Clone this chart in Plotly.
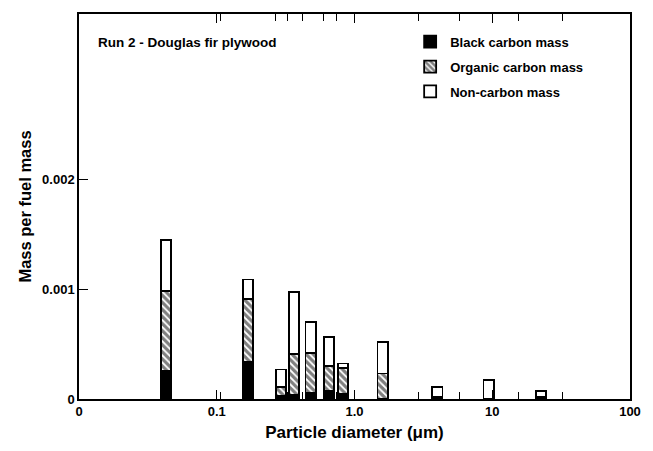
import numpy as np
import plotly.graph_objects as go

# Impactor stage mid-point diameters (um)
diameter = [0.0426, 0.168, 0.293, 0.364, 0.48, 0.652, 0.826, 1.60, 4.0, 9.4, 22.6]

# Mass per fuel mass, split by component
black_carbon = [0.000255, 0.000335, 0.00003, 0.00004, 0.00006, 0.00007, 0.00005, 0.0, 0.0, 0.0, 0.000005]
organic_carbon = [0.000727, 0.000572, 0.00008, 0.000372, 0.000357, 0.00023, 0.00023, 0.000232, 0.00002, 0.0, 0.000015]
non_carbon = [0.000466, 0.00018, 0.000158, 0.000564, 0.000286, 0.000261, 0.000042, 0.000284, 0.00009, 0.00017, 0.00005]

# Axis ticks
x_tickvals = [0.01, 0.1, 1, 10, 100]
x_ticktext = ["0", "0.1", "1.0", "10", "100"]
stage_cuts = [0.107, 0.266, 0.328, 0.419, 0.60, 0.74, 2.9, 5.75, 15.5, 32.3]
y_tickvals = [0, 0.001, 0.002]
y_ticktext = ["0", "0.001", "0.002"]

# Constant bar width on the log axis (in decades)
decades = 0.074
xc = np.array(diameter)
left = xc * 10 ** (-decades / 2)
right = xc * 10 ** (decades / 2)
widths = right - left
offsets = left - xc

FONT = "Liberation Sans, Arial, Helvetica, sans-serif"
line = dict(color="black", width=1.8)

fig = go.Figure()
fig.add_trace(go.Bar(
    x=diameter, y=black_carbon, width=widths, offset=offsets,
    name="Black carbon mass", legendgroup="a",
    marker=dict(color="black", line=line),
))
fig.add_trace(go.Bar(
    x=diameter, y=organic_carbon, width=widths, offset=offsets,
    name="Organic carbon mass", legendgroup="b",
    marker=dict(color="white", line=line,
                pattern=dict(shape="\\", fgcolor="black", bgcolor="white",
                             size=5, solidity=0.65)),
))
fig.add_trace(go.Bar(
    x=diameter, y=non_carbon, width=widths, offset=offsets,
    name="Non-carbon mass", legendgroup="c",
    marker=dict(color="white", line=line),
))

fig.update_layout(
    barmode="stack",
    width=653, height=451,
    margin=dict(l=79, r=13, t=13, b=47),
    paper_bgcolor="white", plot_bgcolor="white",
    font=dict(family=FONT, color="black", size=13),
    showlegend=True,
    legend=dict(
        x=0.601, y=0.967, xanchor="left", yanchor="top",
        bgcolor="rgba(0,0,0,0)", borderwidth=0,
        font=dict(family=FONT, size=13, weight="bold"),
        traceorder="grouped", tracegroupgap=5, itemwidth=30,
    ),
    annotations=[dict(
        text="Run 2 - Douglas fir plywood", x=0.03, y=0.925,
        xref="paper", yref="paper", xanchor="left", yanchor="middle",
        showarrow=False, font=dict(family=FONT, size=13.5, weight="bold"),
    )],
)

fig.update_xaxes(
    type="log", range=[-2, 2],
    tickmode="array", tickvals=x_tickvals, ticktext=x_ticktext,
    ticks="inside", ticklen=9, tickwidth=1.2, tickcolor="black",
    minor=dict(tickmode="array", tickvals=stage_cuts, ticks="inside",
               ticklen=7, tickwidth=1, tickcolor="black"),
    showline=True, linecolor="black", linewidth=1.5, mirror="ticks",
    showgrid=False, zeroline=False,
    tickfont=dict(family=FONT, size=13, weight="bold"),
    title=dict(text="Particle diameter (μm)", standoff=8,
               font=dict(family=FONT, size=17, weight="bold")),
)
fig.update_yaxes(
    range=[0, 0.0035],
    tickmode="array", tickvals=y_tickvals, ticktext=y_ticktext,
    ticks="inside", ticklen=9, tickwidth=1.2, tickcolor="black",
    showline=True, linecolor="black", linewidth=1.5, mirror=True,
    showgrid=False, zeroline=False,
    tickfont=dict(family=FONT, size=13, weight="bold"),
    title=dict(text="Mass per fuel mass", standoff=6,
               font=dict(family=FONT, size=16.5, weight="bold")),
)

fig.write_html("out.html")
